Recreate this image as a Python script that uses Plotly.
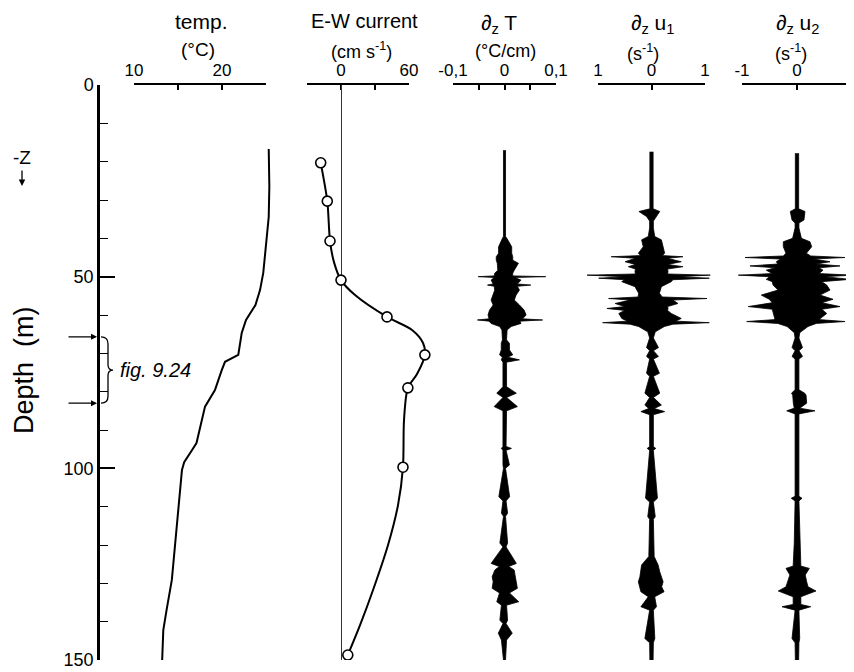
import plotly.graph_objects as go

# ---------------- data ----------------
temp_depth = [16.7, 26.5, 34.4, 39.6, 43.0, 49.0, 53.5, 57.4, 61.3, 64.7, 70.4, 72.2, 74.4, 79.6,
              83.9, 89.1, 93.4, 95.2, 98.4, 100.4, 113.5, 129.1, 137.0, 142.2, 150.0]
temp_value = [25.31, 25.38, 25.31, 25.08, 25.0, 24.69, 24.32, 23.8, 22.73, 22.24, 21.85, 20.34, 19.97, 19.2,
              18.07, 17.5, 17.1, 16.6, 15.7, 15.45, 14.9, 14.3, 13.7, 13.33, 13.2]

# measured current (circles)
cur_depth = [20.3, 30.3, 40.7, 50.9, 60.5, 70.4, 79.0, 99.7, 148.7]
cur_value = [-17.9, -12.1, -9.7, 0.0, 40.6, 74.0, 59.0, 54.7, 6.0]
# hand-drawn current curve
curve_depth = [20.3, 30.3, 40.7, 46.2, 50.9, 54.8, 60.5, 63.9, 67.3, 70.4, 75.4, 79.0, 87.4, 99.7,
               109.6, 120.0, 131.8, 140.9, 148.7]
curve_value = [-17.9, -12.1, -9.7, -6.2, 0.0, 12.4, 40.6, 62.7, 72.4, 74.0, 67.1, 59.0, 55.6, 54.7,
               50.3, 41.5, 28.2, 16.8, 6.0]

# microstructure envelopes: depth (m), left extreme, right extreme
dT_depth = [17.0, 39.5, 40.0, 42.2, 43.9, 44.8, 45.7, 46.5, 48.3, 49.1, 49.8, 50.0, 50.2, 50.9, 51.9,
            52.2, 52.5, 53.5, 54.8, 56.1, 57.4, 58.7, 60.0, 61.0, 61.3, 61.6, 62.2, 63.0, 63.9, 66.5,
            67.4, 69.1, 70.4, 71.0, 71.7, 72.3, 78.7, 80.4, 81.5, 83.9, 85.0, 94.3, 94.8, 95.3, 99.1,
            100.0, 107.4, 108.5, 111.7, 112.5, 119.5, 120.5, 124.8, 125.6, 126.5, 128.3, 129.6, 131.3,
            132.5, 134.8, 135.7, 139.6, 140.5, 143.0, 144.8, 150.0]
dT_left = [-0.002, -0.002, -0.004, -0.0115, -0.0115, -0.016, -0.016, -0.014, -0.013, -0.019, -0.02, -0.051,
           -0.02, -0.026, -0.022, -0.033, -0.02, -0.019, -0.022, -0.026, -0.022, -0.029, -0.032, -0.03,
           -0.0525, -0.03, -0.026, -0.0096, -0.005, -0.004, -0.0063, -0.0063, -0.0096, -0.004, -0.0063,
           -0.003, -0.003, -0.015, -0.003, -0.020, -0.003, -0.003, -0.006, -0.003, -0.003, -0.002, -0.011,
           -0.003, -0.006, -0.002, -0.009, -0.003, -0.026, -0.010, -0.0187, -0.024, -0.022, -0.024,
           -0.0096, -0.015, -0.006, -0.009, -0.003, -0.012, -0.006, -0.002]
dT_right = [0.002, 0.002, 0.0045, 0.014, 0.014, 0.016, 0.016, 0.027, 0.019, 0.016, 0.016, 0.080,
            0.02, 0.032, 0.025, 0.051, 0.025, 0.029, 0.0225, 0.019, 0.029, 0.038, 0.042, 0.035,
            0.074, 0.03, 0.032, 0.013, 0.005, 0.004, 0.0096, 0.0096, 0.016, 0.006, 0.029,
            0.004, 0.004, 0.023, 0.004, 0.025, 0.004, 0.003, 0.0135, 0.003, 0.0096, 0.002, 0.010,
            0.003, 0.006, 0.002, 0.006, 0.003, 0.023, 0.008, 0.0187, 0.021, 0.023, 0.025,
            0.0096, 0.0275, 0.004, 0.006, 0.003, 0.015, 0.004, 0.002]

du1_depth = [17.4, 32.3, 33.0, 34.3, 35.5, 37.3, 39.5, 40.4, 42.2, 43.9, 44.5, 44.8, 45.2, 46.1, 46.8,
             47.4, 48.0, 48.7, 49.3, 49.6, 50.0, 50.4, 50.8, 51.3, 52.6, 54.3, 55.3, 55.7, 56.1, 57.0,
             57.8, 58.3, 58.8, 59.6, 60.9, 61.6, 62.0, 62.4, 63.0, 64.4, 66.0, 68.5, 69.3, 70.8, 71.5,
             75.2, 76.0, 80.4, 81.5, 83.5, 84.4, 85.2, 86.0, 94.3, 94.8, 95.3, 107.8, 108.8, 112.6,
             113.3, 123.0, 125.2, 127.0, 128.3, 129.6, 130.9, 132.2, 133.5, 136.1, 137.0, 144.4,
             145.5, 150.0]
du1_left = [-0.03, -0.03, -0.235, -0.093, -0.035, -0.035, -0.06, -0.185, -0.154, -0.246, -0.2, -0.754,
            -0.3, -0.494, -0.3, -0.432, -0.3, -0.309, -0.3, -1.204, -0.5, -0.987, -0.5, -0.556, -0.309,
            -0.241, -0.25, -0.802, -0.4, -0.68, -0.5, -0.833, -0.5, -0.611, -0.556, -0.45, -0.913,
            -0.4, -0.241, -0.07, -0.035, -0.093, -0.035, -0.093, -0.035, -0.093, -0.035, -0.124,
            -0.035, -0.124, -0.05, -0.198, -0.035, -0.035, -0.08, -0.035, -0.111, -0.035, -0.07,
            -0.035, -0.05, -0.185, -0.198, -0.217, -0.246, -0.22, -0.198, -0.06, -0.198, -0.035,
            -0.124, -0.035, -0.03]
du1_right = [0.03, 0.03, 0.154, 0.093, 0.035, 0.035, 0.06, 0.185, 0.217, 0.246, 0.2, 0.587,
             0.3, 0.556, 0.3, 0.587, 0.3, 0.309, 0.3, 1.098, 0.5, 1.08, 0.4, 0.37, 0.185,
             0.148, 0.2, 1.037, 0.4, 0.494, 0.3, 0.309, 0.3, 0.37, 0.556, 0.45, 1.08,
             0.4, 0.241, 0.07, 0.035, 0.13, 0.035, 0.13, 0.035, 0.148, 0.035, 0.154,
             0.035, 0.185, 0.05, 0.246, 0.035, 0.035, 0.08, 0.035, 0.111, 0.035, 0.07,
             0.035, 0.05, 0.124, 0.154, 0.185, 0.217, 0.19, 0.235, 0.06, 0.093, 0.035,
             0.062, 0.035, 0.03]

du2_depth = [17.8, 32.3, 33.0, 35.2, 36.0, 37.3, 40.0, 40.9, 42.2, 43.9, 44.6, 45.0, 45.4, 46.1, 46.7,
             47.2, 47.7, 48.3, 49.2, 49.6, 50.0, 50.7, 51.3, 52.2, 53.5, 54.8, 55.9, 56.8, 57.8, 58.5,
             59.6, 61.2, 61.7, 62.2, 63.0, 64.6, 66.0, 68.5, 69.3, 70.8, 71.5, 79.5, 80.4, 80.9, 83.0,
             84.3, 85.0, 85.8, 107.3, 107.8, 108.5, 119.5, 125.5, 126.1, 127.8, 129.6, 130.9, 132.0,
             133.5, 135.5, 136.1, 137.0, 144.4, 145.5, 150.0]
du2_left = [-0.03, -0.03, -0.122, -0.091, -0.035, -0.035, -0.08, -0.249, -0.249, -0.2, -0.25, -0.945,
            -0.3, -0.376, -0.35, -0.855, -0.4, -0.558, -0.45, -1.067, -0.5, -0.558, -0.45, -0.436,
            -0.345, -0.649, -0.504, -0.45, -0.885, -0.45, -0.436, -0.4, -0.915, -0.35, -0.18, -0.05,
            -0.035, -0.09, -0.035, -0.09, -0.035, -0.035, -0.1, -0.078, -0.067, -0.05, -0.187, -0.035,
            -0.035, -0.104, -0.035, -0.05, -0.07, -0.2, -0.13, -0.169, -0.2, -0.34, -0.07, -0.07,
            -0.273, -0.035, -0.091, -0.035, -0.03]
du2_right = [0.03, 0.03, 0.145, 0.127, 0.035, 0.035, 0.08, 0.236, 0.267, 0.17, 0.25, 0.873,
             0.3, 0.6, 0.35, 0.782, 0.4, 0.473, 0.4, 1.024, 0.5, 0.964, 0.45, 0.54,
             0.6, 0.418, 0.655, 0.45, 0.782, 0.45, 0.54, 0.4, 0.873, 0.35, 0.2, 0.05,
             0.035, 0.1, 0.035, 0.1, 0.035, 0.035, 0.14, 0.164, 0.176, 0.05, 0.327, 0.035,
             0.035, 0.091, 0.035, 0.05, 0.07, 0.224, 0.15, 0.176, 0.2, 0.345, 0.07, 0.07,
             0.249, 0.035, 0.049, 0.035, 0.03]

depth_ticks = [0, 50, 100, 150]

# ---------------- layout helpers ----------------
# page body has an 8px margin, so the figure is drawn 8px smaller and mapped with that offset
OFF = 8
W, H = 854 - OFF, 672 - OFF
MT = 85 - OFF
MB = H - (660 - OFF)
PH = H - MT - MB
FONT = "Liberation Sans"


def px(x):
    return (x - OFF) / W


def py(y):
    return 1 - (y - OFF - MT) / PH


fig = go.Figure()

# panels: display axis pixel span, display range, data span, labelled ticks, minor ticks
panels = [
    dict(a=134, b=266, r=[10, 25], c=105, d=300, tv=[10, 20], tt=["10", "20"], minor=dict(dtick=5, tick0=0)),
    dict(a=307, b=409, r=[-30, 60], c=300, d=445, tv=[0, 60], tt=["0", "60"], minor=dict(dtick=30, tick0=0)),
    dict(a=453, b=556, r=[-0.1, 0.1], c=440, d=572, tv=[-0.1, 0, 0.1], tt=["-0,1", "0", "0,1"],
         minor=dict(dtick=0.05, tick0=0)),
    dict(a=598, b=705, r=[-1, 1], c=575, d=727, tv=[-1, 0, 1], tt=["1", "0", "1"], minor=None),
    dict(a=742, b=852, r=[-1, 1], c=728, d=854, tv=[-1, 0, 1], tt=["-1", "0", "1"], minor=None),
]

layout_axes = {}
for i, p in enumerate(panels):
    disp = i + 1
    data = i + 6
    scale = (p["r"][1] - p["r"][0]) / (p["b"] - p["a"])
    d_right = min(p["d"], OFF + W)
    dr = [p["r"][0] + (p["c"] - p["a"]) * scale, p["r"][0] + (d_right - p["a"]) * scale]
    dname = "xaxis" if disp == 1 else f"xaxis{disp}"
    ax = dict(
        domain=[px(p["a"]), px(p["b"])], range=p["r"], anchor="y", side="top", automargin=False,
        showline=True, linecolor="black", linewidth=2, showgrid=False, zeroline=False,
        ticks="inside", ticklen=5, tickwidth=1.5, tickcolor="black",
        tickmode="array", tickvals=p["tv"], ticktext=p["tt"],
        tickfont=dict(family=FONT, size=17, color="black"),
    )
    if p["minor"]:
        ax["minor"] = dict(dtick=p["minor"]["dtick"], tick0=p["minor"]["tick0"], ticks="inside",
                           ticklen=5, tickwidth=1.5, tickcolor="black", showgrid=False)
    layout_axes[dname] = ax
    layout_axes[f"xaxis{data}"] = dict(
        domain=[px(p["c"]), px(d_right)], range=dr, anchor="y", side="top", automargin=False,
        showline=False, showgrid=False, showticklabels=False, ticks="",
        zeroline=(i == 1), zerolinecolor="#333", zerolinewidth=1,
    )
    fig.add_trace(go.Scatter(x=[], y=[], xaxis=f"x{disp}" if disp > 1 else "x", yaxis="y",
                             showlegend=False, hoverinfo="skip"))

# temperature
fig.add_trace(go.Scatter(x=temp_value, y=temp_depth, xaxis="x6", yaxis="y", mode="lines",
                         line=dict(color="black", width=2), showlegend=False))
# current curve and measured points
fig.add_trace(go.Scatter(x=curve_value, y=curve_depth, xaxis="x7", yaxis="y", mode="lines",
                         line=dict(color="black", width=2, shape="spline", smoothing=0.8),
                         showlegend=False))
fig.add_trace(go.Scatter(x=cur_value, y=cur_depth, xaxis="x7", yaxis="y", mode="markers",
                         marker=dict(size=10, color="white", line=dict(color="black", width=1.6)),
                         showlegend=False))


def envelope(dep, lo, hi, ax):
    xs = list(hi) + list(lo)[::-1]
    ys = list(dep) + list(dep)[::-1]
    fig.add_trace(go.Scatter(x=xs, y=ys, xaxis=ax, yaxis="y", mode="lines", fill="toself",
                             fillcolor="black", line=dict(color="black", width=0.8),
                             showlegend=False, hoverinfo="skip"))


envelope(dT_depth, dT_left, dT_right, "x8")
envelope(du1_depth, du1_left, du1_right, "x9")
envelope(du2_depth, du2_left, du2_right, "x10")

annotations = []


def txt(x, y, s, size=17, italic=False, angle=0):
    annotations.append(dict(x=px(x), y=py(y), xref="paper", yref="paper", text=s, showarrow=False,
                            xanchor="center", yanchor="middle", textangle=angle,
                            font=dict(family=FONT, size=size, color="black",
                                      style="italic" if italic else "normal")))


txt(201, 21, "temp.", 21)
txt(198, 49, "(°C)", 19)
txt(364, 21, "E-W current", 20)
txt(361, 51, "(cm s<sup>-1</sup>)", 18)
txt(499, 24, "∂<sub>z</sub> T", 21)
txt(505, 51, "(°C/cm)", 18)
txt(652, 24, "∂<sub>z</sub> u<sub>1</sub>", 21)
txt(643, 52, "(s<sup>-1</sup>)", 18)
txt(797, 24, "∂<sub>z</sub> u<sub>2</sub>", 21)
txt(791, 52, "(s<sup>-1</sup>)", 18)
txt(24, 370, "Depth  (m)", 27, angle=-90)
txt(22, 157, "-Z", 19)
txt(155, 370, "fig. 9.24", 20, italic=True)

# -Z arrow
annotations.append(dict(x=px(22), y=py(186), xref="paper", yref="paper", ax=0, ay=-17, text="",
                        showarrow=True, arrowhead=2, arrowsize=1, arrowwidth=1.3, arrowcolor="black"))
# depth arrows for fig 9.24 segment
for dd in (65.7, 83.0):
    annotations.append(dict(x=px(97), y=dd, xref="paper", yref="y", ax=-30, ay=0, text="",
                            showarrow=True, arrowhead=2, arrowsize=1, arrowwidth=1.2,
                            arrowcolor="black"))

# brace
bx0, bx1, bx2 = px(101), px(108), px(113)
brace = (f"M {bx0},65.7 Q {bx1},65.7 {bx1},67.5 L {bx1},73.0 Q {bx1},74.4 {bx2},74.4 "
         f"Q {bx1},74.4 {bx1},75.8 L {bx1},81.2 Q {bx1},83.0 {bx0},83.0")

fig.update_layout(
    width=W, height=H, margin=dict(l=0, r=0, t=MT, b=MB, pad=0, autoexpand=False),
    paper_bgcolor="white", plot_bgcolor="rgba(0,0,0,0)",
    showlegend=False,
    yaxis=dict(domain=[0, 1], range=[150, 0], anchor="free", position=px(98), automargin=False,
               showline=True, linecolor="black", linewidth=2.5, showgrid=False, zeroline=False,
               ticks="inside", ticklen=15, tickwidth=1.5, tickcolor="black",
               tickmode="array", tickvals=depth_ticks,
               tickfont=dict(family=FONT, size=18, color="black"),
               minor=dict(dtick=10, ticks="inside", ticklen=8, tickwidth=1.2, tickcolor="black")),
    annotations=annotations,
    shapes=[dict(type="path", path=brace, xref="paper", yref="y",
                 line=dict(color="black", width=1.3))],
    **layout_axes,
)

fig.write_html("out.html")
